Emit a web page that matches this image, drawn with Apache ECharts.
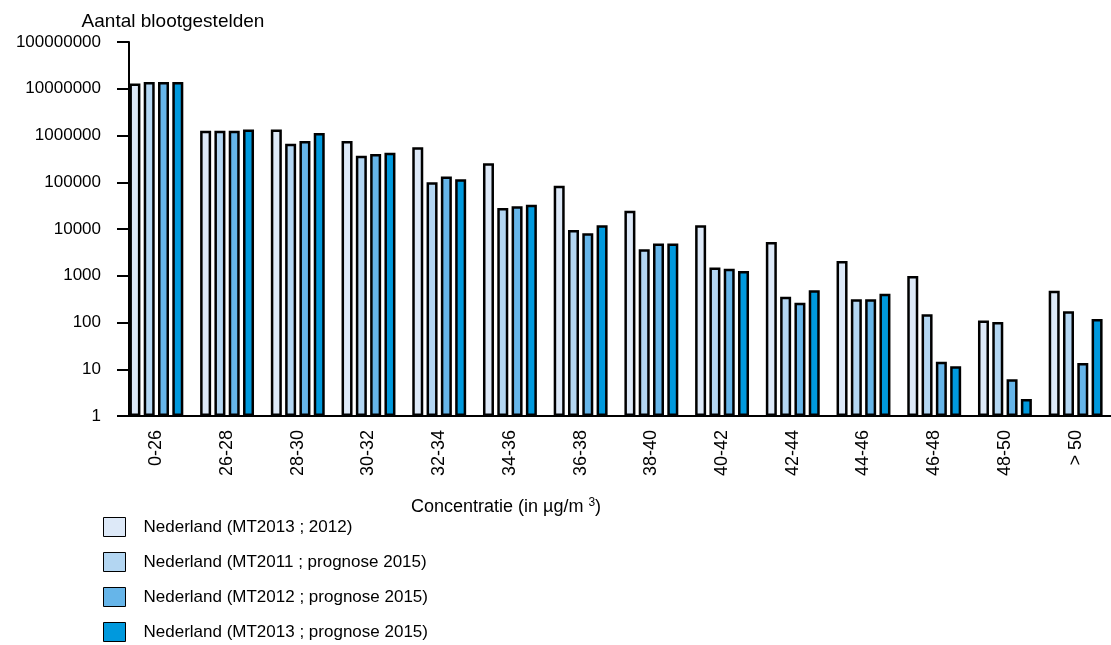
<!DOCTYPE html>
<html>
<head>
<meta charset="utf-8">
<script src="https://cdn.jsdelivr.net/npm/echarts@6/dist/echarts.min.js"></script>
<style>
  html, body { margin: 0; padding: 0; background: #fff; }
  #main { width: 1111px; height: 645px; }
</style>
</head>
<body>
<div id="main"></div>
<script>
// categorieen (concentratieklassen)
const categories = ["0-26", "26-28", "28-30", "30-32", "32-34", "34-36", "36-38",
  "38-40", "40-42", "42-44", "44-46", "46-48", "48-50", "> 50"];

// aantallen blootgestelden per reeks
const mt2013_2012 = [13000000, 1260000, 1350000, 760000, 560000, 254000, 84000,
  24700, 12000, 5300, 2070, 990, 111, 479];
const mt2011_2015 = [14000000, 1260000, 670000, 370000, 100000, 28000, 9500,
  3700, 1500, 357, 313, 150, 103, 174];
const mt2012_2015 = [14000000, 1260000, 760000, 400000, 132000, 30500, 8100,
  4900, 1420, 265, 313, 14.5, 6.1, 13.6];
const mt2013_2015 = [14000000, 1350000, 1130000, 430000, 116000, 33000, 12000,
  4900, 1260, 489, 413, 11.6, 2.3, 119];

const seriesNames = [
  "Nederland (MT2013 ; 2012)",
  "Nederland (MT2011 ; prognose 2015)",
  "Nederland (MT2012 ; prognose 2015)",
  "Nederland (MT2013 ; prognose 2015)"
];
const seriesData = [mt2013_2012, mt2011_2015, mt2012_2015, mt2013_2015];
const colors = ["#dde9f8", "#b3d6f2", "#66b5e9", "#0099dd"];

const font = "Liberation Sans, Arial, sans-serif";

const chart = echarts.init(document.getElementById("main"));

const option = {
  animation: false,
  textStyle: { fontFamily: font },
  title: {
    text: "Aantal blootgestelden",
    left: 168,
    top: 7,
    textAlign: "center",
    textStyle: { fontSize: 19, fontWeight: "normal", color: "#000", fontFamily: font }
  },
  legend: {
    orient: "vertical",
    left: 103,
    top: 517,
    padding: 0,
    itemWidth: 22,
    itemHeight: 19,
    itemGap: 15,
    icon: "rect",
    data: seriesNames,
    itemStyle: { borderColor: "#000", borderWidth: 1 },
    textStyle: { fontSize: 17, color: "#000", fontFamily: font, padding: [0, 0, 0, 13] }
  },
  grid: { left: 121, top: 42, width: 1004, height: 374 },
  xAxis: {
    type: "category",
    data: categories,
    axisLine: { lineStyle: { color: "#000", width: 2 } },
    axisTick: { show: false },
    axisLabel: { rotate: 90, margin: 14, fontSize: 18, color: "#000", fontFamily: font }
  },
  yAxis: {
    type: "log",
    logBase: 10,
    min: 1,
    max: 100000000,
    splitNumber: 8,
    offset: -8,
    axisLine: { show: true, lineStyle: { color: "#000", width: 2 } },
    axisTick: { show: true, length: 12, lineStyle: { color: "#000", width: 2 } },
    splitLine: { show: false },
    axisLabel: {
      margin: 28,
      fontSize: 17,
      color: "#000",
      fontFamily: font,
      formatter: v => String(Math.round(v))
    }
  },
  graphic: [{
    type: "text",
    x: 506,
    y: 507,
    style: {
      text: "Concentratie (in µg/m {sup|3})",
      font: "18px " + font,
      fill: "#000",
      align: "center",
      verticalAlign: "middle",
      rich: { sup: { fontSize: 12, verticalAlign: "top", padding: [0, 0, 8, 0] } }
    }
  }],
  series: seriesData.map((d, i) => ({
    name: seriesNames[i],
    type: "bar",
    data: d,
    barWidth: 11,
    barGap: "30%",
    itemStyle: { color: colors[i], borderColor: "#000", borderWidth: 2.5 }
  }))
};

chart.setOption(option);
</script>
</body>
</html>
